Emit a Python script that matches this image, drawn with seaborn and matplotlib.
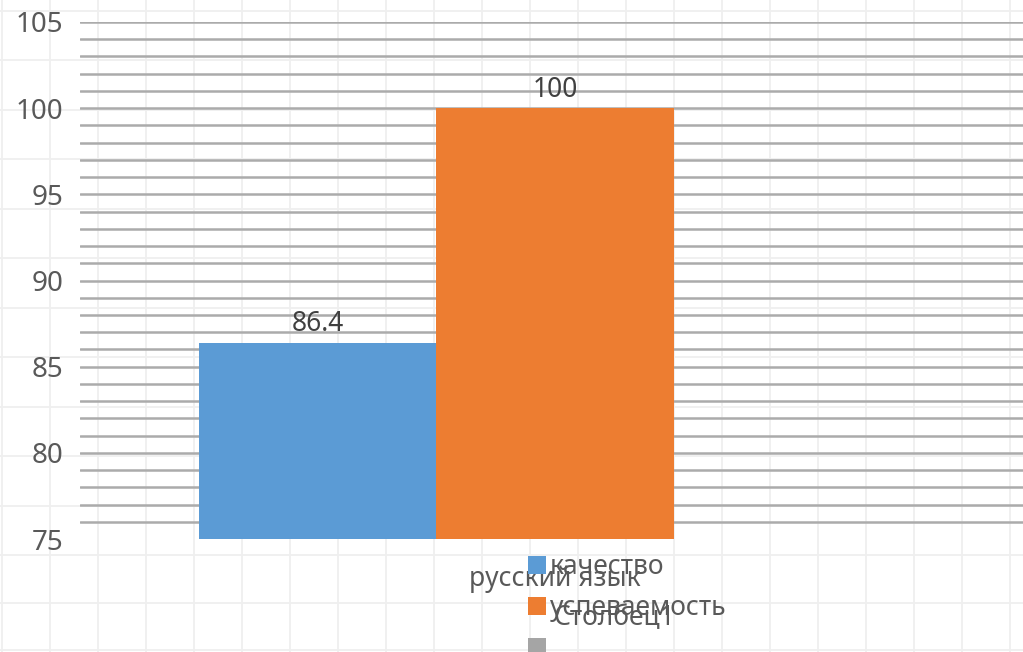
import numpy as np
import pandas as pd
import matplotlib
matplotlib.use("Agg")
import matplotlib.pyplot as plt
from matplotlib.lines import Line2D
from matplotlib.patches import Patch
import seaborn as sns

# ---- data ----
categories = ["русский язык"]
series = ["качество", "успеваемость", "Столбец1"]
values = [86.4, 100.0, np.nan]
colors = ["#5B9BD5", "#ED7D31", "#A5A5A5"]
y_major = [75, 80, 85, 90, 95, 100, 105]

df = pd.DataFrame({
    "предмет": categories * len(series),
    "серия": series,
    "значение": values,
})

sns.set_theme(style="white")
plt.rcParams["font.family"] = ["Noto Sans", "DejaVu Sans"]

W, H = 1023, 652
fig = plt.figure(figsize=(W / 100, H / 100), dpi=100)
fig.patch.set_facecolor("white")

# faint paper-like background grid
paper = "#efefef"
for x in np.arange(2, W, 48):
    fig.add_artist(Line2D([x / W, x / W], [0, 1], transform=fig.transFigure,
                          color=paper, lw=1.3, zorder=-5))
for y in np.arange(555, -10, -49.5):
    fig.add_artist(Line2D([0, 1], [1 - y / H, 1 - y / H], transform=fig.transFigure,
                          color=paper, lw=1.3, zorder=-5))
for y in [603, 650]:
    fig.add_artist(Line2D([0, 1], [1 - y / H, 1 - y / H], transform=fig.transFigure,
                          color=paper, lw=1.3, zorder=-5))

left, right = 80 / W, 1030 / W
bottom, top = 1 - 539 / H, 1 - 22 / H
ax = fig.add_axes([left, bottom, right - left, top - bottom])
ax.patch.set_alpha(0)

sns.barplot(data=df, x="предмет", y="значение", hue="серия", hue_order=series,
            palette=colors, width=0.75, saturation=1, legend=False, ax=ax,
            errorbar=None, linewidth=0, zorder=3)

ax.set_ylim(75, 105)
ax.set_xlim(-0.5, 0.5)
ax.set_yticks(y_major)
ax.set_yticks(np.arange(76, 106, 1), minor=True)
ax.yaxis.remove_overlapping_locs = False
ax.grid(False)
ax.grid(True, which="minor", axis="y", color="#ababab", lw=1.8, zorder=1)
for s in ax.spines.values():
    s.set_visible(False)

ax.tick_params(axis="y", which="both", length=0, pad=12, labelsize=20, labelcolor="#595959")
ax.tick_params(axis="x", length=0, pad=19, labelsize=19, labelcolor="#595959")
ax.set_xlabel("")
ax.set_ylabel("")

for cont, v in zip(ax.containers[:2], values[:2]):
    ax.bar_label(cont, labels=[f"{v:g}"], padding=3, fontsize=19, color="#404040")

handles = [Patch(facecolor=c, edgecolor="none") for c in colors]
leg = fig.legend(handles, [series[0], series[1], " "], loc="upper left",
                 bbox_to_anchor=(528 / W, 1 - 553 / H), frameon=False,
                 fontsize=19, handlelength=0.68, handleheight=0.68,
                 handletextpad=0.15, labelspacing=0.5, borderpad=0, borderaxespad=0)
for t in leg.get_texts():
    t.set_color("#595959")

fig.text(553 / W, 1 - 618 / H, series[2], fontsize=19, color="#595959",
         ha="left", va="center")

fig.savefig("out.png", dpi=100)
